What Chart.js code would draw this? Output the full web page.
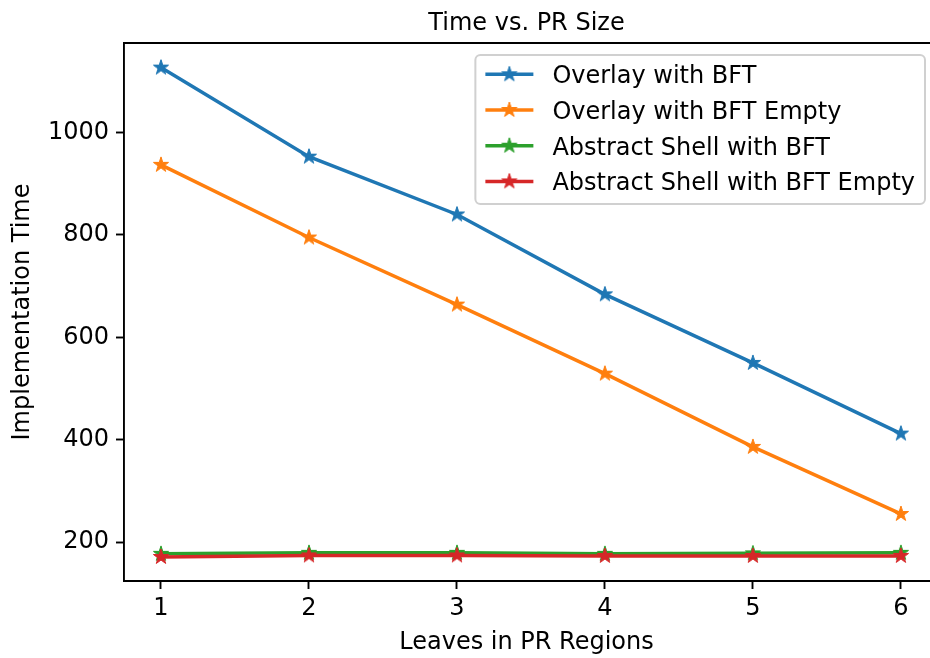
<!DOCTYPE html>
<html>
<head>
<meta charset="utf-8">
<script src="https://cdn.jsdelivr.net/npm/chart.js@4.4.1/dist/chart.umd.min.js"></script>
<style>
  html, body { margin: 0; padding: 0; background: #fff; }
  canvas { display: block; }
</style>
</head>
<body>
<canvas id="prChart" width="930" height="658"></canvas>
<script>
// --- data ---
const leaves = [1, 2, 3, 4, 5, 6];
const overlayBft = [1127, 953, 840, 684, 550, 412];
const overlayBftEmpty = [937, 795, 664, 529, 386, 255];
const shellBft = [177, 179, 179, 177, 178, 179];
const shellBftEmpty = [171, 174, 174, 173, 173, 173];
const seriesNames = ['Overlay with BFT', 'Overlay with BFT Empty', 'Abstract Shell with BFT', 'Abstract Shell with BFT Empty'];
const seriesColors = ['#1f77b4', '#ff7f0e', '#2ca02c', '#d62728'];
const xTicks = [1, 2, 3, 4, 5, 6];
const yTicks = [200, 400, 600, 800, 1000];

const FONT = 'DejaVu Sans';
Chart.defaults.font.family = FONT;
Chart.defaults.font.size = 24;
Chart.defaults.color = '#000';

// matplotlib-like filled star marker, drawn once per colour
function makeStar(color, r) {
    const c = document.createElement('canvas');
    const s = Math.ceil(r * 2 + 4);
    c.width = s; c.height = s;
    const g = c.getContext('2d');
    g.translate(s / 2, s / 2);
    g.beginPath();
    for (let i = 0; i < 10; i++) {
        const rad = i % 2 === 0 ? r : r * 0.382;
        const a = -Math.PI / 2 + i * Math.PI / 5;
        g.lineTo(rad * Math.cos(a), rad * Math.sin(a));
    }
    g.closePath();
    g.fillStyle = color;
    g.fill();
    g.strokeStyle = color;
    g.lineWidth = 1;
    g.stroke();
    return c;
}

const allSeries = [overlayBft, overlayBftEmpty, shellBft, shellBftEmpty];
const datasets = allSeries.map((vals, i) => ({
    label: seriesNames[i],
    data: vals.map((v, j) => ({ x: leaves[j], y: v })),
    borderColor: seriesColors[i],
    backgroundColor: seriesColors[i],
    borderWidth: 3.5,
    pointStyle: makeStar(seriesColors[i], 8),
    pointRadius: 8,
    tension: 0,
    fill: false,
    order: allSeries.length - i // later series on top, like matplotlib
}));

// top spine; the right one is cut off in the original picture
const spinePlugin = {
    id: 'spines',
    afterDatasetsDraw(chart) {
        const { ctx, chartArea: a } = chart;
        ctx.save();
        ctx.strokeStyle = '#000';
        ctx.lineWidth = 1.9;
        ctx.beginPath();
        ctx.moveTo(a.left, a.top);
        ctx.lineTo(chart.width, a.top);
        ctx.moveTo(a.left, a.bottom);
        ctx.lineTo(chart.width, a.bottom);
        ctx.stroke();
        ctx.restore();
    }
};

// legend box in the upper right, drawn the matplotlib way
const legendPlugin = {
    id: 'mplLegend',
    afterDraw(chart) {
        const { ctx, chartArea: a } = chart;
        const sets = chart.data.datasets;
        ctx.save();
        ctx.font = `24px "${FONT}"`;
        const textW = Math.max(...sets.map(d => ctx.measureText(d.label).width));
        const pad = 10, handle = 48, gap = 19;
        const w = pad + handle + gap + textW + pad;
        const h = 149;
        const right = 925;
        const x0 = right - w, y0 = a.top + 12;
        ctx.beginPath();
        ctx.roundRect(x0, y0, w, h, 5);
        ctx.fillStyle = 'rgba(255,255,255,0.8)';
        ctx.fill();
        ctx.strokeStyle = '#d0d0d0';
        ctx.lineWidth = 2;
        ctx.stroke();
        sets.forEach((d, i) => {
            const cy = y0 + 19.3 + i * 35.7;
            const hx = x0 + pad;
            ctx.strokeStyle = d.borderColor;
            ctx.lineWidth = 3.5;
            ctx.beginPath();
            ctx.moveTo(hx, cy);
            ctx.lineTo(hx + handle, cy);
            ctx.stroke();
            const img = d.pointStyle;
            ctx.drawImage(img, hx + handle / 2 - img.width / 2, cy - img.height / 2);
            ctx.fillStyle = '#000';
            ctx.textBaseline = 'alphabetic';
            ctx.fillText(d.label, hx + handle + gap, cy + 9);
        });
        ctx.restore();
    }
};

new Chart(document.getElementById('prChart'), {
    type: 'line',
    data: { datasets },
    plugins: [spinePlugin, legendPlugin],
    options: {
        responsive: false,
        animation: false,
        layout: { autoPadding: false, padding: { left: 0, right: 1, top: 0, bottom: 0 } },
        plugins: {
            legend: { display: false },
            tooltip: { enabled: false },
            title: {
                display: true,
                text: 'Time vs. PR Size',
                fullSize: false,
                font: { size: 24, weight: 'normal' },
                color: '#000',
                padding: { top: 9, bottom: 5.2 }
            }
        },
        scales: {
            x: {
                type: 'linear',
                min: 0.75,
                max: 6.19,
                afterBuildTicks: s => { s.ticks = xTicks.map(v => ({ value: v })); },
                afterFit: s => { s.height = 77; s.paddingLeft = 0; s.paddingRight = 0; },
                ticks: { padding: 5, font: { size: 24 }, color: '#000', callback: v => String(v) },
                grid: { drawOnChartArea: false, drawTicks: true, tickLength: 8, tickColor: '#000', tickWidth: 1.9 },
                border: { display: true, color: '#000', width: 1.9 },
                title: { display: true, text: 'Leaves in PR Regions', font: { size: 24 }, color: '#000', padding: { top: 0, bottom: 1 } }
            },
            y: {
                type: 'linear',
                min: 124,
                max: 1175,
                afterBuildTicks: s => { s.ticks = yTicks.map(v => ({ value: v })); },
                afterFit: s => { s.width = 124; s.paddingTop = 0; s.paddingBottom = 0; },
                ticks: { padding: 7, font: { size: 24 }, color: '#000', callback: v => String(v) },
                grid: { drawOnChartArea: false, drawTicks: true, tickLength: 8, tickColor: '#000', tickWidth: 1.9 },
                border: { display: true, color: '#000', width: 1.9 },
                title: { display: true, text: 'Implementation Time', font: { size: 24 }, color: '#000', padding: { top: 8, bottom: 0 } }
            }
        }
    }
});
</script>
</body>
</html>
